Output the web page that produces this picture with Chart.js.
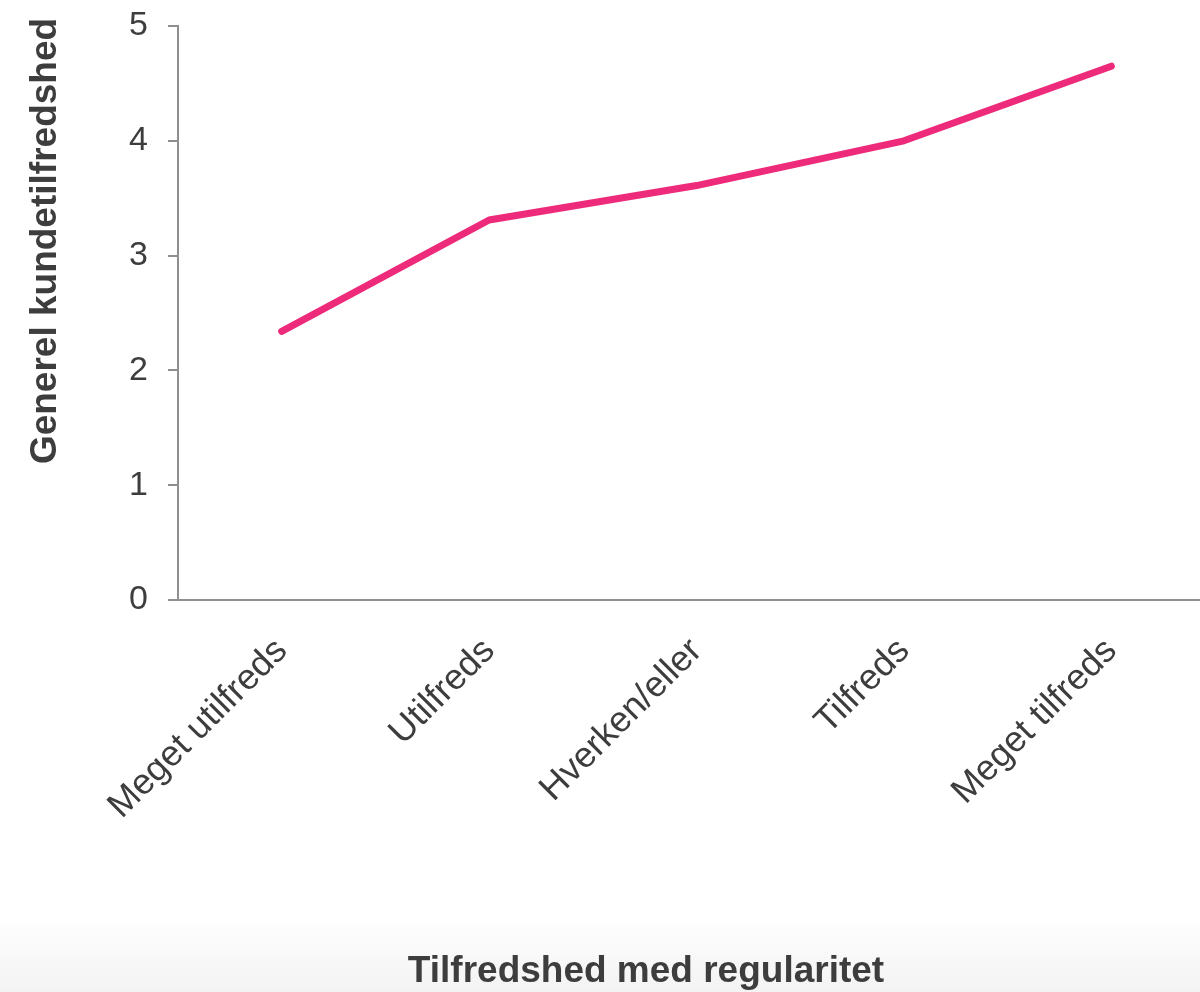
<!DOCTYPE html>
<html>
<head>
<meta charset="utf-8">
<script src="https://cdn.jsdelivr.net/npm/chart.js@4/dist/chart.umd.min.js"></script>
<style>
  html, body { margin: 0; padding: 0; overflow: hidden; }
  body {
    width: 1200px; height: 992px;
    background: linear-gradient(to bottom, #ffffff 0px, #ffffff 915px, #f3f3f3 992px);
  }
  /* plot runs slightly past the right edge of the page */
  #wrap { position: relative; width: 1215px; height: 992px; }
</style>
</head>
<body>
<div id="wrap"><canvas id="chart"></canvas></div>
<script>
// Satisfaction with regularity vs. overall customer satisfaction
const categories = ['Meget utilfreds', 'Utilfreds', 'Hverken/eller', 'Tilfreds', 'Meget tilfreds'];
const satisfaction = [2.34, 3.31, 3.61, 4.0, 4.65];
const yTicks = [0, 1, 2, 3, 4, 5];
const xTitle = 'Tilfredshed med regularitet';
const yTitle = 'Generel kundetilfredshed';

const textColor = '#3d3d3d';
const axisColor = '#8f8f8f';
const fontFamily = 'Arial, "Liberation Sans", sans-serif';

// Axis titles placed beside the plot area
const axisTitles = {
  id: 'axisTitles',
  afterDraw(chart) {
    const ctx = chart.ctx;
    ctx.save();
    ctx.fillStyle = textColor;
    ctx.font = 'bold 37px ' + fontFamily;
    ctx.textBaseline = 'middle';
    ctx.textAlign = 'center';
    ctx.fillText(xTitle, 646, 972);
    ctx.translate(46, 241);
    ctx.rotate(-Math.PI / 2);
    ctx.fillText(yTitle, 0, 0);
    ctx.restore();
  }
};

new Chart(document.getElementById('chart'), {
  type: 'line',
  data: {
    labels: categories,
    datasets: [{
      data: satisfaction,
      borderColor: '#ee2a7b',
      borderWidth: 7,
      borderCapStyle: 'round',
      borderJoinStyle: 'round',
      pointRadius: 0,
      pointHoverRadius: 0,
      tension: 0,
      fill: false
    }]
  },
  options: {
    responsive: true,
    maintainAspectRatio: false,
    animation: false,
    events: [],
    layout: { padding: { top: 26, right: 0, left: 0, bottom: 0 } },
    plugins: { legend: { display: false }, tooltip: { enabled: false } },
    scales: {
      x: {
        type: 'category',
        offset: true,
        grid: { display: false, drawTicks: false },
        border: { display: true, color: axisColor, width: 2 },
        ticks: {
          color: textColor,
          font: { family: fontFamily, size: 36 },
          maxRotation: 45,
          minRotation: 45,
          padding: 30,
          autoSkip: false
        },
        afterFit(scale) { scale.height = 392; }
      },
      y: {
        min: 0,
        max: 5,
        afterBuildTicks(scale) { scale.ticks = yTicks.map(v => ({ value: v })); },
        grid: {
          display: true,
          drawOnChartArea: false,
          drawTicks: true,
          tickLength: 10,
          color: axisColor,
          lineWidth: 2
        },
        border: { display: true, color: axisColor, width: 2 },
        ticks: {
          color: textColor,
          font: { family: fontFamily, size: 34 },
          padding: 20
        },
        afterFit(scale) {
          scale.width = 178;
          scale.paddingTop = 0;
          scale.paddingBottom = 0;
        }
      }
    }
  },
  plugins: [axisTitles]
});
</script>
</body>
</html>
